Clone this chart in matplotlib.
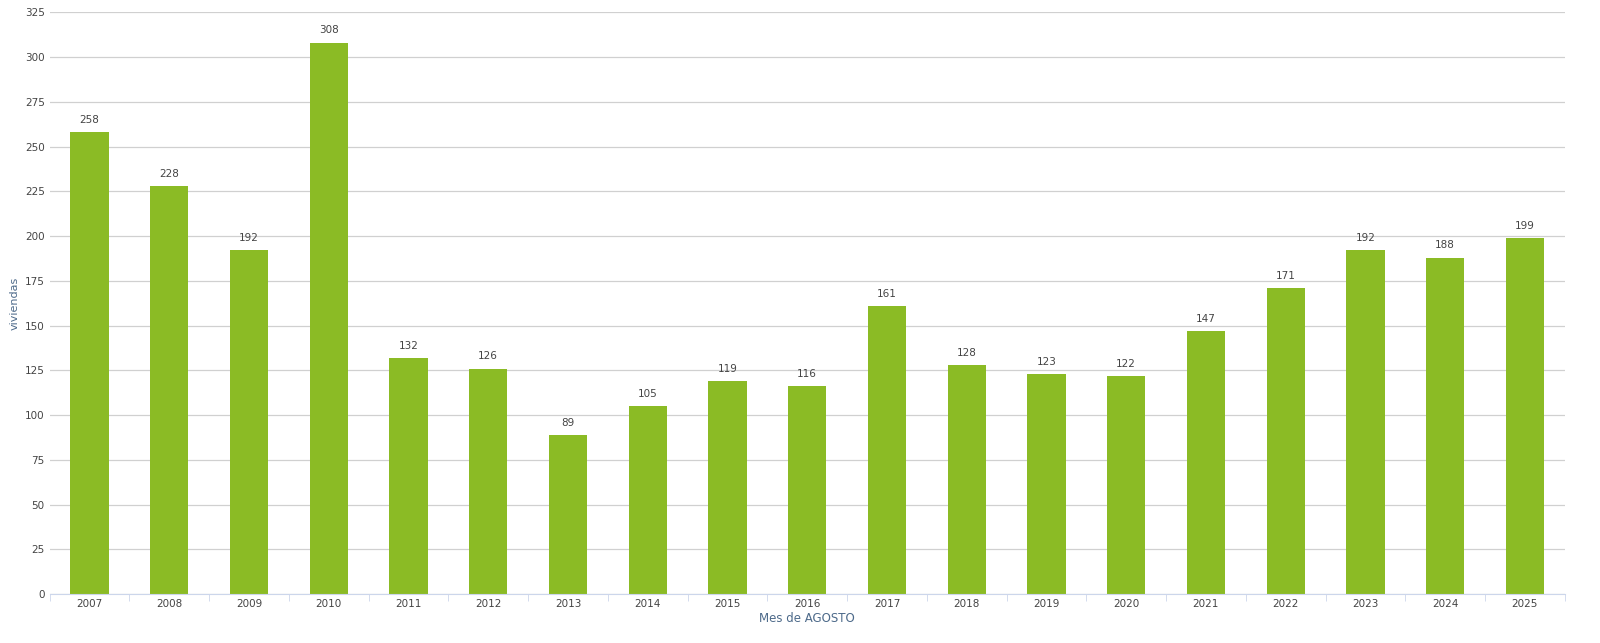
import matplotlib.pyplot as plt
import numpy as np

years = ["2007", "2008", "2009", "2010", "2011", "2012", "2013", "2014", "2015", "2016",
         "2017", "2018", "2019", "2020", "2021", "2022", "2023", "2024", "2025"]
values = [258, 228, 192, 308, 132, 126, 89, 105, 119, 116,
          161, 128, 123, 122, 147, 171, 192, 188, 199]

fig = plt.figure(figsize=(16, 6.43), dpi=100)
ax = fig.add_axes([0.031, 0.076, 0.947, 0.905])

x = np.arange(len(years))
ax.bar(x, values, width=0.48, color="#8bbb25", zorder=2)
for xi, v in zip(x, values):
    ax.text(xi, v + 4, str(v), ha="center", va="bottom", fontsize=7.5, color="#444444")

ax.set_xlim(-0.5, len(years) - 0.5)
ax.set_ylim(0, 325)
ax.set_yticks(np.arange(0, 326, 25))
ax.set_xticks(x)
ax.set_xticklabels(years)
ax.set_xticks(np.arange(-0.5, len(years)), minor=True)
ax.tick_params(axis="x", which="major", length=0, labelsize=7.5, colors="#444444")
ax.tick_params(axis="x", which="minor", length=5, color="#ccd6eb")
ax.tick_params(axis="y", length=0, labelsize=7.5, colors="#444444")
ax.grid(axis="y", color="#d0d0d0", linewidth=0.9, zorder=0)
for s in ["top", "right", "left"]:
    ax.spines[s].set_visible(False)
ax.spines["bottom"].set_color("#ccd6eb")

ax.set_ylabel("viviendas", fontsize=8, color="#4d6a8a")
ax.set_xlabel("Mes de AGOSTO", fontsize=8.5, color="#4d6a8a", labelpad=2)

fig.savefig("out.png", dpi=100)
